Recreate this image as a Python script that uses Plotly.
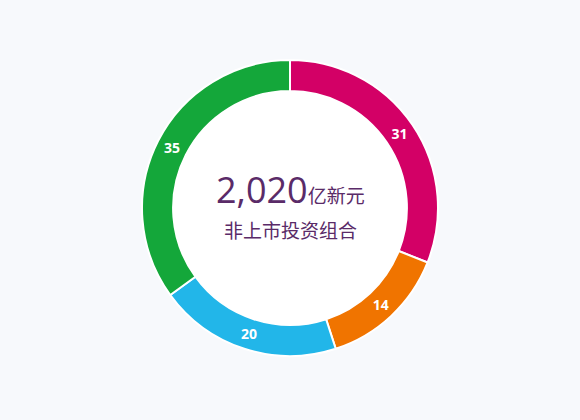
import plotly.graph_objects as go

# portfolio split (clockwise from 12 o'clock)
segments = ["A", "B", "C", "D"]
values = [31, 14, 20, 35]
colors = ["#D30066", "#F07400", "#22B6E9", "#14A73A"]

total_text = "2,020"
unit_text = "亿新元"
subtitle = "非上市投资组合"

fig = go.Figure()

# white disc behind the ring so the hole is filled
fig.add_trace(go.Pie(
    values=[1], marker=dict(colors=["#FFFFFF"], line=dict(width=0)),
    textinfo="none", hoverinfo="skip", showlegend=False, sort=False,
))

fig.add_trace(go.Pie(
    labels=segments, values=values, hole=0.79, sort=False,
    direction="clockwise", rotation=0,
    marker=dict(colors=colors, line=dict(color="#FFFFFF", width=2)),
    textinfo="value", textposition="inside",
    insidetextorientation="horizontal",
    textfont=dict(family="Open Sans", size=14, color="#FFFFFF", weight="bold"),
    showlegend=False,
))

# centre labels, stacked either side of the same line
fig.add_annotation(
    x=0.5, y=0.478, xref="paper", yref="paper", yanchor="bottom",
    showarrow=False, borderpad=0,
    text=f"<span style='font-size:36px'>{total_text}</span>"
         f"<span style='font-size:19px'>{unit_text}</span>",
    font=dict(family="Open Sans, Noto Sans CJK SC", color="#5A2B68"),
)
fig.add_annotation(
    x=0.5, y=0.476, xref="paper", yref="paper", yanchor="top",
    showarrow=False, borderpad=0,
    text=subtitle,
    font=dict(family="Noto Sans CJK SC", size=19, color="#5A2B68"),
)

fig.update_layout(
    width=580, height=420,
    margin=dict(l=142, r=142, t=60, b=64),
    paper_bgcolor="#F7F9FC", plot_bgcolor="#F7F9FC",
    uniformtext=dict(minsize=14, mode="show"),
)

fig.write_html("out.html", config={"displayModeBar": False},
               post_script="document.body.style.margin='0';")
